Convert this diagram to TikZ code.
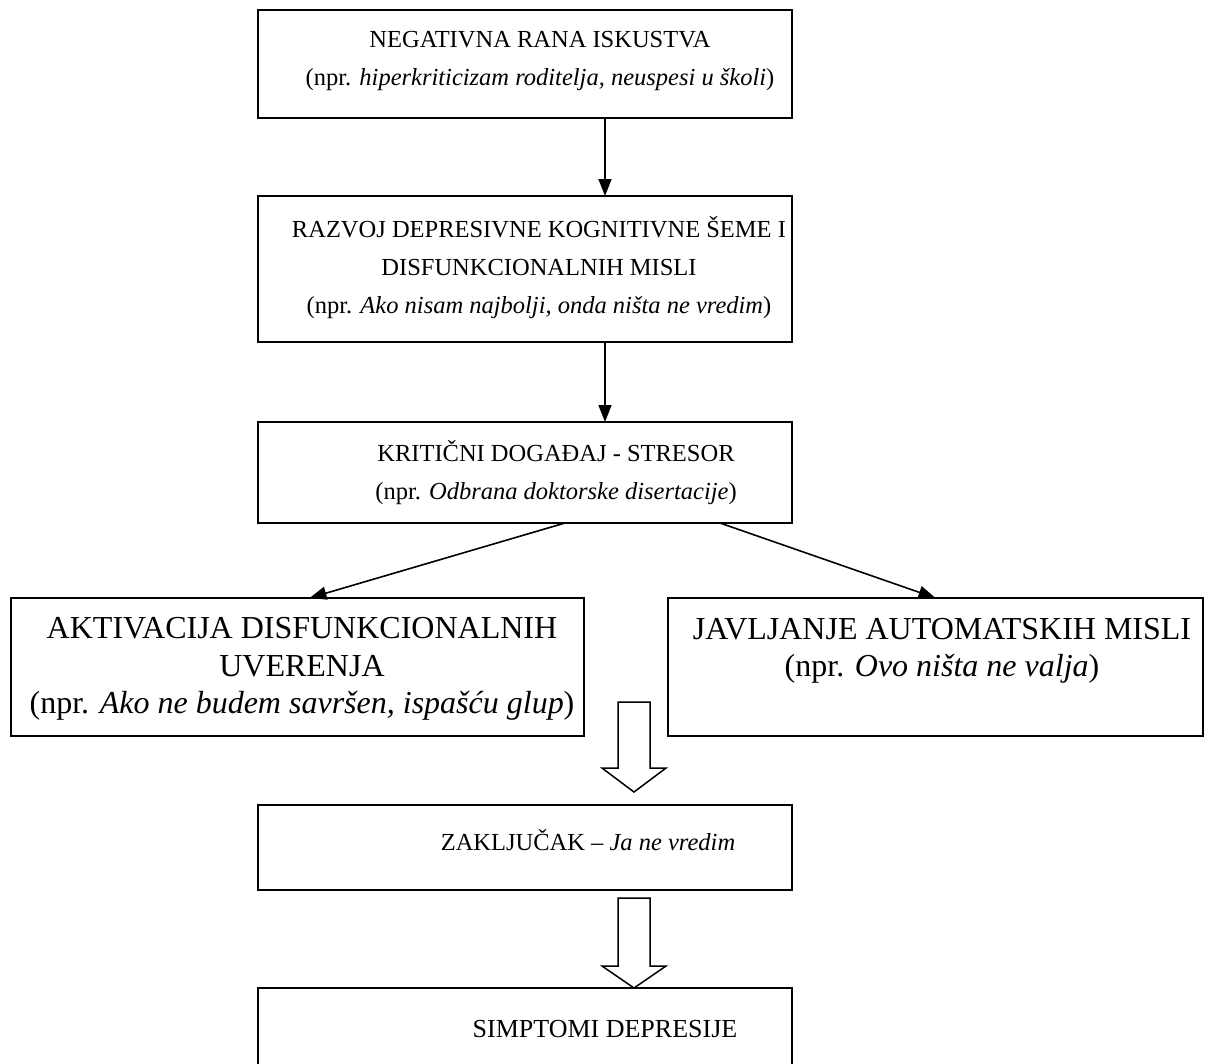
\documentclass[tikz,border=0pt]{standalone}
\usepackage{fontspec}
\setmainfont{Liberation Serif}
\usetikzlibrary{arrows.meta}
\begin{document}
\begin{tikzpicture}[x=1pt,y=-1pt,
  box/.style={draw, line width=1.5pt, inner sep=0pt, outer sep=0pt, anchor=north west},
  txt/.style={align=center, inner sep=0pt, font=\fontsize{24.5}{38}\selectfont},
  bigtxt/.style={align=center, inner sep=0pt, font=\fontsize{32}{37.5}\selectfont},
  arr/.style={line width=1.6pt, -{Triangle[length=17pt,width=13pt]}},
  hollow/.style={draw, line width=1.5pt, fill=white, line join=miter}]
\useasboundingbox (0,0) rectangle (1206,1063);
\clip (0,0) rectangle (1206,1063);
% boxes
\node[box, minimum width=534pt, minimum height=108pt] (b1) at (258,10) {};
\node[box, minimum width=534pt, minimum height=146pt] (b2) at (258,196) {};
\node[box, minimum width=534pt, minimum height=101pt] (b3) at (258,422) {};
\node[box, minimum width=573pt, minimum height=138pt] (b4) at (11,598) {};
\node[box, minimum width=535pt, minimum height=138pt] (b5) at (668,598) {};
\node[box, minimum width=534pt, minimum height=85pt] (b6) at (258,805) {};
\node[box, minimum width=534pt, minimum height=100pt] (b7) at (258,988) {};
% texts
\node[txt] (t1) at (540,61) {NEGATIVNA RANA ISKUSTVA\\(npr. \textit{hiperkriticizam roditelja, neuspesi u školi})};
\node[txt] (t2) at (539,268) {RAZVOJ DEPRESIVNE KOGNITIVNE ŠEME I\\DISFUNKCIONALNIH MISLI\\(npr. \textit{Ako nisam najbolji, onda ništa ne vredim})};
\node[txt] (t3) at (556,473) {KRITIČNI DOGAĐAJ - STRESOR\\(npr. \textit{Odbrana doktorske disertacije})};
\node[bigtxt] (t4) at (302,669) {AKTIVACIJA DISFUNKCIONALNIH\\UVERENJA\\(npr. \textit{Ako ne budem savršen, ispašću glup})};
\node[bigtxt] (t5) at (942,651) {JAVLJANJE AUTOMATSKIH MISLI\\(npr. \textit{Ovo ništa ne valja})};
\node[txt] (t6) at (588,840) {ZAKLJUČAK – \textit{Ja ne vredim}};
\node[txt, font=\fontsize{26}{38}\selectfont] (t7) at (605,1029) {SIMPTOMI DEPRESIJE};
% connectors
\draw[arr] ([xshift=80pt]b1.south) -- ([xshift=80pt]b2.north);
\draw[arr] ([xshift=80pt]b2.south) -- ([xshift=80pt]b3.north);
\draw[arr] ([xshift=40pt]b3.south) -- ([xshift=12pt]b4.north);
\draw[arr] ([xshift=195pt]b3.south) -- (b5.north);
% hollow arrows
\draw[hollow] (618,702) -- (650,702) -- (650,768) -- (666,768) -- (634,792) -- (602,768) -- (618,768) -- cycle;
\draw[hollow] (618,898) -- (650,898) -- (650,966) -- (666,966) -- (634,988) -- (602,966) -- (618,966) -- cycle;
\end{tikzpicture}
\end{document}
